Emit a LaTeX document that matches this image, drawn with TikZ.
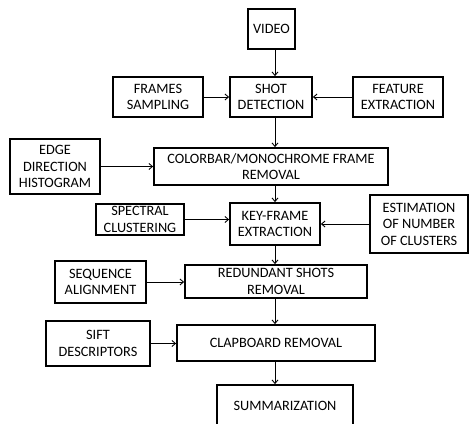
\documentclass[tikz,border=0pt]{standalone}
\usepackage{fontspec}
\setmainfont{Carlito}
\usetikzlibrary{arrows.meta, positioning, calc}

\begin{document}
\begin{tikzpicture}[
  x=1pt, y=-1pt,
  every node/.style={font=\fontsize{14.3}{16.5}\selectfont, align=center, inner sep=1pt},
  stagebox/.style={draw=black, line width=1.8pt, fill=white},
  flow/.style={-{Straight Barb[length=3.5pt,width=6pt]}, line width=0.9pt},
]
  \useasboundingbox[fill=white] (0,0) rectangle (470,423);
  \coordinate (spine) at (275,0);

  % main column
  \node[stagebox, minimum width=47pt, minimum height=40pt] (video) at (271.5,29) {VIDEO};
  \node[stagebox, minimum width=82pt, minimum height=40pt] (shot) at (271,97) {SHOT\\DETECTION};
  \node[stagebox, minimum width=234pt, minimum height=37pt] (colorbar) at (271,166.5)
    {COLORBAR/MONOCHROME FRAME\\REMOVAL};
  \node[stagebox, minimum width=90pt, minimum height=42pt] (keyframe) at (275,224) {KEY-FRAME\\EXTRACTION};
  \node[stagebox, minimum width=182pt, minimum height=33pt] (redundant) at (276,281.5)
    {REDUNDANT SHOTS\\REMOVAL};
  \node[stagebox, minimum width=198pt, minimum height=36pt] (clapboard) at (276,343) {CLAPBOARD REMOVAL};
  \node[stagebox, minimum width=136pt, minimum height=41pt] (summary) at (285,405.5) {SUMMARIZATION};

  % side inputs
  \node[stagebox, minimum width=90pt, minimum height=40pt] (frames) at (158,97) {FRAMES\\SAMPLING};
  \node[stagebox, minimum width=90pt, minimum height=40pt] (feature) at (398,97) {FEATURE\\EXTRACTION};
  \node[stagebox, minimum width=90pt, minimum height=55pt] (edge) at (55,166.5)
    {EDGE\\DIRECTION\\HISTOGRAM};
  \node[stagebox, minimum width=88pt, minimum height=31pt] (spectral) at (140,219.5) {SPECTRAL\\CLUSTERING};
  \node[stagebox, minimum width=98pt, minimum height=58pt] (estimation) at (419,224)
    {ESTIMATION\\OF NUMBER\\OF CLUSTERS};
  \node[stagebox, minimum width=91pt, minimum height=42pt] (sequence) at (100.5,282) {SEQUENCE\\ALIGNMENT};
  \node[stagebox, minimum width=104pt, minimum height=45pt] (sift) at (98,343.5) {SIFT\\DESCRIPTORS};

  % vertical flow
  \draw[flow] (video.south -| spine) -- (shot.north -| spine);
  \draw[flow] (shot.south -| spine) -- (colorbar.north -| spine);
  \draw[flow] (colorbar.south -| spine) -- (keyframe.north -| spine);
  \draw[flow] (keyframe.south -| spine) -- (redundant.north -| spine);
  \draw[flow] (redundant.south -| spine) -- (clapboard.north -| spine);
  \draw[flow] (clapboard.south -| spine) -- (summary.north -| spine);

  % horizontal inputs
  \draw[flow] (frames.east) -- (frames.east -| shot.west);
  \draw[flow] (feature.west) -- (feature.west -| shot.east);
  \draw[flow] (edge.east) -- (edge.east -| colorbar.west);
  \draw[flow] (spectral.east) -- (spectral.east -| keyframe.west);
  \draw[flow] (estimation.west) -- (estimation.west -| keyframe.east);
  \draw[flow] (sequence.east) -- (sequence.east -| redundant.west);
  \draw[flow] (sift.east) -- (sift.east -| clapboard.west);
\end{tikzpicture}
\end{document}
